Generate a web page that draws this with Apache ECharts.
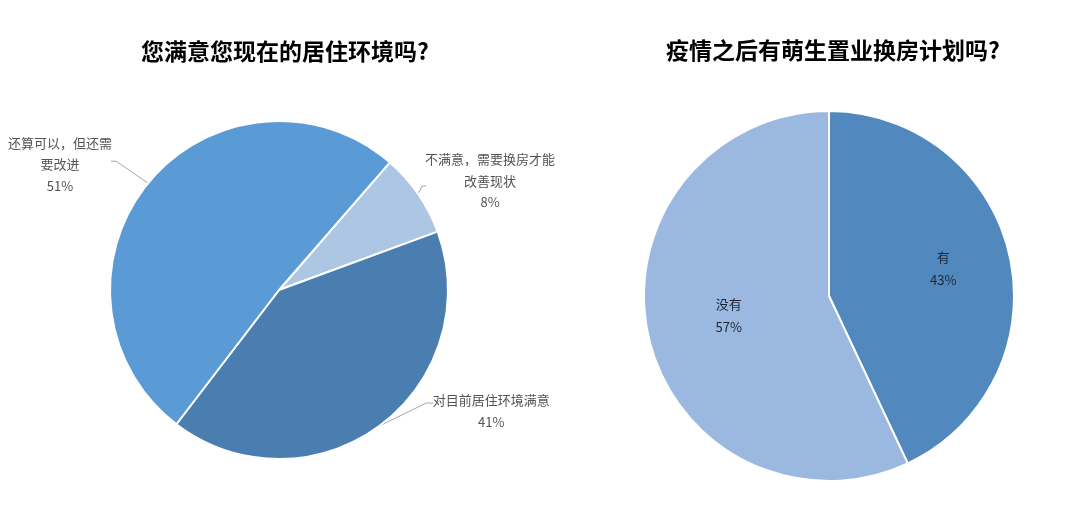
<!DOCTYPE html>
<html>
<head>
<meta charset="utf-8">
<script src="https://cdn.jsdelivr.net/npm/echarts@6/dist/echarts.min.js"></script>
<style>
html,body{margin:0;padding:0;background:#fff;}
#c{width:1080px;height:507px;}
</style>
</head>
<body>
<div id="c"></div>
<script>
const leftTitle = '您满意您现在的居住环境吗?';
const rightTitle = '疫情之后有萌生置业换房计划吗?';
const leftCategories = ['不满意，需要换房才能\n改善现状', '对目前居住环境满意', '还算可以，但还需\n要改进'];
const leftValues = [8, 41, 51];
const rightCategories = ['有', '没有'];
const rightValues = [43, 57];

const leftColors = ['#ADC6E4', '#4A7EB1', '#5B9BD5'];
const rightColors = ['#5189BF', '#9BB9E0'];
const FONT = '"Noto Sans CJK SC", "Noto Sans", sans-serif';

// leader-line layout relative to each slice's outer mid-point: [elbow, end, label centre]
const leftLeader = [
  [[4, -8], [8, -8], [72, -13]],
  [[47, -23], [54, -23], [112, -15]],
  [[-32, -22], [-37, -22], [-88, -19]]
];
const rightShift = [[21, -7], [-7, -1]];

const chart = echarts.init(document.getElementById('c'));
chart.setOption({
  animation: false,
  backgroundColor: '#fff',
  title: [
    {text: leftTitle, left: 280, top: 35, textAlign: 'center',
     textStyle: {fontSize: 23, fontWeight: 'bold', color: '#000', fontFamily: FONT}},
    {text: rightTitle, left: 828, top: 34, textAlign: 'center',
     textStyle: {fontSize: 23, fontWeight: 'bold', color: '#000', fontFamily: FONT}}
  ],
  series: [
    {
      type: 'pie',
      center: [279, 290],
      radius: 169,
      startAngle: 49,
      clockwise: true,
      itemStyle: {borderColor: '#fff', borderWidth: 2},
      label: {
        show: true, position: 'outside', formatter: '{b}\n{c}%',
        fontSize: 13, lineHeight: 21.5, color: '#545454', fontFamily: FONT,
        overflow: 'none'
      },
      labelLine: {show: true, length: 10, length2: 5, lineStyle: {color: '#A6A6A6', width: 1}},
      labelLayout: function (p) {
        const L = leftLeader[p.dataIndex];
        const e = p.labelLinePoints ? p.labelLinePoints[0] : [0, 0];
        return {
          x: e[0] + L[2][0], y: e[1] + L[2][1],
          align: 'center', verticalAlign: 'middle', hideOverlap: false,
          labelLinePoints: [
            [e[0], e[1]],
            [e[0] + L[0][0], e[1] + L[0][1]],
            [e[0] + L[1][0], e[1] + L[1][1]]
          ]
        };
      },
      data: leftCategories.map((n, i) => ({name: n, value: leftValues[i], itemStyle: {color: leftColors[i]}})),
      emphasis: {disabled: true}
    },
    {
      type: 'pie',
      center: [829, 296],
      radius: 185,
      startAngle: 90,
      clockwise: true,
      itemStyle: {borderColor: '#fff', borderWidth: 2},
      label: {
        show: true, position: 'inside', formatter: '{b}\n{c}%',
        fontSize: 13, lineHeight: 23, color: '#1F2533', fontFamily: FONT
      },
      labelLine: {show: false},
      labelLayout: function (p) {
        const s = rightShift[p.dataIndex];
        return {dx: s[0], dy: s[1]};
      },
      data: rightCategories.map((n, i) => ({name: n, value: rightValues[i], itemStyle: {color: rightColors[i]}})),
      emphasis: {disabled: true}
    }
  ]
});
</script>
</body>
</html>
